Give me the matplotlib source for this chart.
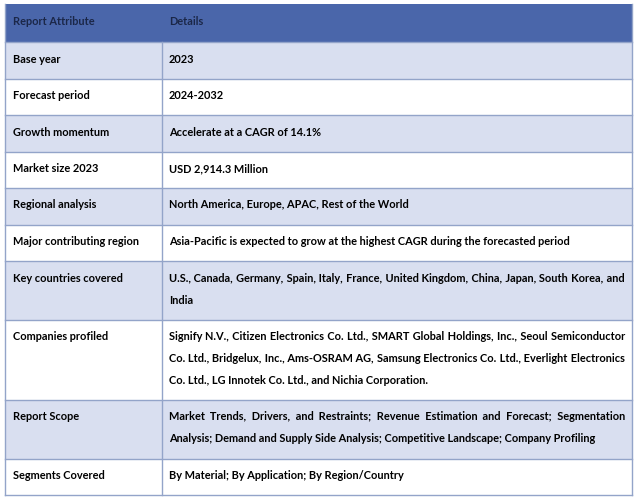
import matplotlib.pyplot as plt

plt.rcParams['font.family'] = ['Lato', 'DejaVu Sans']

header = ["Report Attribute", "Details"]

attributes = [
    "Base year",
    "Forecast period",
    "Growth momentum",
    "Market size 2023",
    "Regional analysis",
    "Major contributing region",
    "Key countries covered",
    "Companies profiled",
    "Report Scope",
    "Segments Covered",
]

# each detail cell is a list of the lines shown in the picture
details = [
    ["2023"],
    ["2024-2032"],
    ["Accelerate at a CAGR of 14.1%"],
    ["USD 2,914.3 Million"],
    ["North America, Europe, APAC, Rest of the World"],
    ["Asia-Pacific is expected to grow at the highest CAGR during the forecasted period"],
    ["U.S., Canada, Germany, Spain, Italy, France, United Kingdom, China, Japan, South Korea, and",
     "India"],
    ["Signify N.V., Citizen Electronics Co. Ltd., SMART Global Holdings, Inc., Seoul Semiconductor",
     "Co. Ltd., Bridgelux, Inc., Ams-OSRAM AG, Samsung Electronics Co. Ltd., Everlight Electronics",
     "Co. Ltd., LG Innotek Co. Ltd., and Nichia Corporation."],
    ["Market Trends, Drivers, and Restraints; Revenue Estimation and Forecast; Segmentation",
     "Analysis; Demand and Supply Side Analysis; Competitive Landscape; Company Profiling"],
    ["By Material; By Application; By Region/Country"],
]

W, H = 637, 501
fig = plt.figure(figsize=(W / 100, H / 100), dpi=100)
ax = fig.add_axes([0, 0, 1, 1])
ax.set_xlim(0, W)
ax.set_ylim(H, 0)
ax.axis('off')

x0, xmid, x1 = 5, 162, 632
top = 4
head_h = 38
line_h = 22
row_h = 36.5
pad_l = 8
first_base = 20.5   # from row top to first baseline

head_col = '#4a66aa'
band_col = '#d9dff0'
line_col = '#93a4c9'
head_txt = '#1b2748'
HAIR = '\u200a'

renderer = fig.canvas.get_renderer()


def text_w(s, size):
    t = ax.text(0, 0, s, fontsize=size, fontweight='bold')
    w = t.get_window_extent(renderer).width
    t.remove()
    return w


# fit font size so the longest single line matches its width in the picture
fs = 10 * 403 / text_w(details[5][0], 10)
hair_w = (text_w('x' + HAIR * 20 + 'x', fs) - text_w('xx', fs)) / 20


def put_line(x, y, s, justify_to=None, color='black'):
    if justify_to is not None:
        # widen the gaps with hair spaces so the line fills the cell
        words = s.split(' ')
        gaps = len(words) - 1
        extra = justify_to - x - text_w(s, fs)
        n = max(0, round(extra / hair_w))
        out = words[0]
        for i, wd in enumerate(words[1:]):
            k = n * (i + 1) // gaps - n * i // gaps
            out += ' ' + HAIR * k + wd
        s = out
    ax.text(x, y, s, fontsize=fs, fontweight='bold', color=color, va='baseline', ha='left')


# header
ax.add_patch(plt.Rectangle((x0, top), x1 - x0, head_h, facecolor=head_col, edgecolor='none'))
put_line(x0 + pad_l, top + 20.5, header[0], color=head_txt)
put_line(xmid + pad_l - 1, top + 20.5, header[1], color=head_txt)

y = top + head_h
edges = [top, y]
for i, (att, lines) in enumerate(zip(attributes, details)):
    h = row_h + line_h * (len(lines) - 1)
    fc = band_col if i % 2 == 0 else 'white'
    ax.add_patch(plt.Rectangle((x0, y), x1 - x0, h, facecolor=fc, edgecolor='none'))
    put_line(x0 + pad_l, y + first_base, att)
    for k, ln in enumerate(lines):
        just = x1 - 7 if (len(lines) > 1 and k < len(lines) - 1) else None
        put_line(xmid + pad_l - 1, y + first_base + k * line_h, ln, justify_to=just)
    y += h
    edges.append(y)

for e in edges[1:]:
    ax.plot([x0, x1], [e, e], color=line_col, lw=1)
ax.plot([x0, x0], [top, y], color=line_col, lw=1)
ax.plot([x1, x1], [top, y], color=line_col, lw=1)
ax.plot([xmid, xmid], [top + head_h, y], color=line_col, lw=1)

fig.savefig('out.png', dpi=100)
